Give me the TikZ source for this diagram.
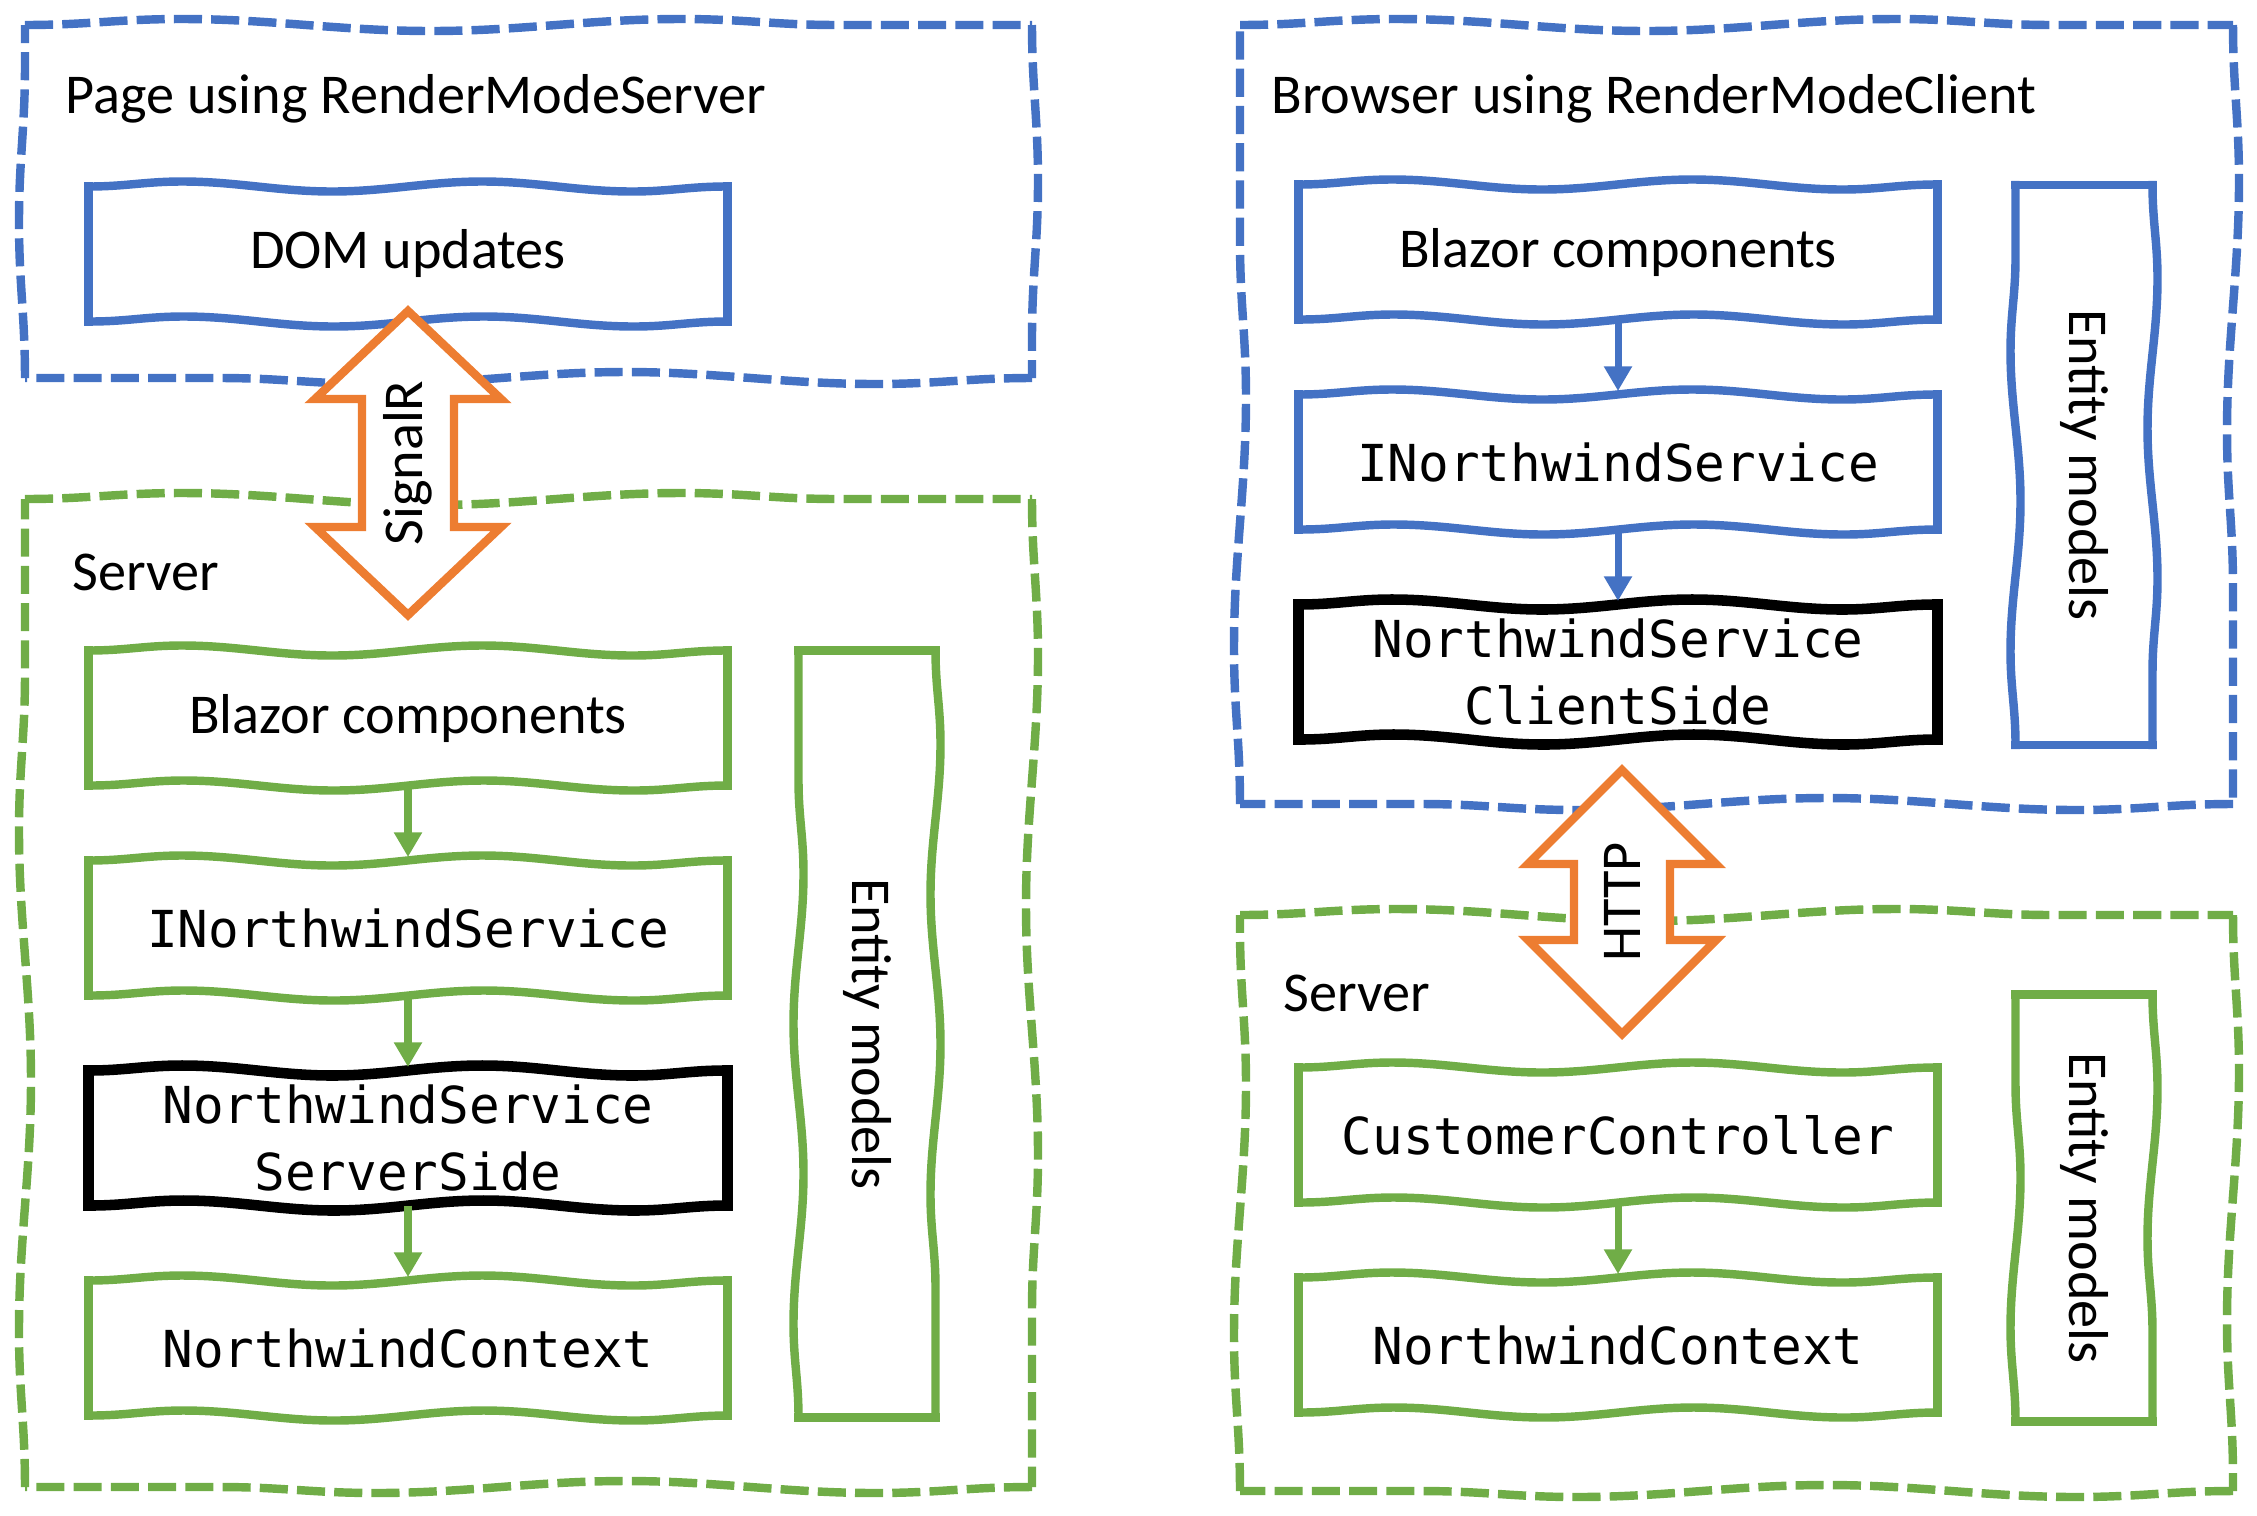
\documentclass[tikz,border=0pt]{standalone}
\usepackage{fontspec}
\setmainfont{Carlito}
\newfontfamily\codefont{DejaVu Sans Mono}
\usetikzlibrary{positioning,arrows.meta,decorations.pathmorphing}
\definecolor{boxblue}{HTML}{4472C4}
\definecolor{boxgreen}{HTML}{70AD47}
\definecolor{pipeorange}{HTML}{ED7D31}
\tikzset{
  wavy/.style={decorate, decoration={snake, segment length=3cm, amplitude=0.5mm}},
  layer/.style={draw=#1, line width=2.4pt, decorate, decoration={snake, segment length=5cm, amplitude=0.6mm},
    dash pattern=on 8pt off 2.6pt},
  comp/.style={minimum width=6.39cm, minimum height=1.35cm, align=center, outer sep=0pt},
  code/.style={font=\codefont\fontsize{14.5}{19}\selectfont},
  model/.style={minimum height=1.37cm, outer sep=0pt, rotate=-90},
  link/.style={draw=#1, line width=2pt, shorten >=1pt, -{Triangle[length=7pt,width=7.6pt]}},
  pipe/.style={draw=pipeorange, line width=2.4pt, fill=white, line join=miter}
}
% hand drawn outline round a named node
\newcommand{\sketch}[3][2.4pt]{%
  \foreach \a/\b in {north west/north east, north east/south east, south east/south west, south west/north west}
    \draw[wavy, draw=#3, line width=#1, line cap=rect] (#2.\a) -- (#2.\b);
}
% dashed container from corner to corner
\newcommand{\layerbox}[3]{%
  \coordinate (nw) at (#2); \coordinate (se) at (#3);
  \draw[layer=#1] (nw) -- (nw -| se);
  \draw[layer=#1] (nw -| se) -- (se);
  \draw[layer=#1] (se) -- (se -| nw);
  \draw[layer=#1] (se -| nw) -- (nw);
}

\begin{document}
\begin{tikzpicture}[font=\fontsize{16}{19}\selectfont]
  \useasboundingbox (0,0) rectangle (22.57,-15.15);

  % the four dashed containers
  \layerbox{boxblue}{0.25,-0.25}{10.32,-3.78}
  \layerbox{boxgreen}{0.25,-4.99}{10.32,-14.87}
  \layerbox{boxblue}{12.40,-0.25}{22.33,-8.04}
  \layerbox{boxgreen}{12.40,-9.15}{22.33,-14.91}

  \node[anchor=west] (ptitle) at (0.535,-0.99) {Page using RenderModeServer};
  \node[anchor=west] (btitle) at (12.59,-0.99) {Browser using RenderModeClient};
  \node[anchor=west] (lserver) at (0.605,-5.72) {Server};
  \node[anchor=west] (rserver) at (12.71,-9.93) {Server};

  % server rendering
  \node[comp] (dom) at (4.08,-2.54) {DOM updates};
  \node[comp] (lblazor) at (4.08,-7.18) {Blazor components};
  \node[comp, code, below=0.75cm of lblazor] (linorth) {INorthwindService};
  \node[comp, code, below=0.75cm of linorth] (serverside) {NorthwindService\\ServerSide};
  \node[comp, code, below=0.75cm of serverside] (lcontext) {NorthwindContext};
  \node[model, minimum width=7.67cm] (lmodels) at (8.67,-10.34) {Entity models};
  \sketch{dom}{boxblue}
  \sketch{lblazor}{boxgreen}
  \sketch{linorth}{boxgreen}
  \sketch[3pt]{serverside}{black}
  \sketch{lcontext}{boxgreen}
  \sketch{lmodels}{boxgreen}

  \draw[link=boxgreen] (lblazor) -- (linorth);
  \draw[link=boxgreen] (linorth) -- (serverside);
  \draw[link=boxgreen] (serverside) -- (lcontext);

  % client rendering
  \node[comp] (rblazor) at (16.18,-2.52) {Blazor components};
  \node[comp, code, below=0.75cm of rblazor] (rinorth) {INorthwindService};
  \node[comp, code, below=0.75cm of rinorth] (clientside) {NorthwindService\\ClientSide};
  \node[model, minimum width=5.6cm] (bmodels) at (20.84,-4.65) {Entity models};
  \node[comp, code] (customer) at (16.18,-11.35) {CustomerController};
  \node[comp, code, below=0.75cm of customer] (rcontext) {NorthwindContext};
  \node[model, minimum width=4.27cm] (smodels) at (20.84,-12.08) {Entity models};
  \sketch{rblazor}{boxblue}
  \sketch{rinorth}{boxblue}
  \sketch[3pt]{clientside}{black}
  \sketch{bmodels}{boxblue}
  \sketch{customer}{boxgreen}
  \sketch{rcontext}{boxgreen}
  \sketch{smodels}{boxgreen}

  \draw[link=boxblue] (rblazor) -- (rinorth);
  \draw[link=boxblue] (rinorth) -- (clientside);
  \draw[link=boxgreen] (customer) -- (rcontext);

  % double arrows
  \begin{scope}[shift={(4.08,-4.63)}]
    \draw[pipe] (0,1.52) -- (0.93,0.64) -- (0.46,0.64) -- (0.46,-0.64) -- (0.93,-0.64) -- (0,-1.52)
      -- (-0.93,-0.64) -- (-0.46,-0.64) -- (-0.46,0.64) -- (-0.93,0.64) -- cycle;
    \node[rotate=90] (signalr) at (0,0) {SignalR};
  \end{scope}
  \begin{scope}[shift={(16.22,-9.02)}]
    \draw[pipe] (0,1.32) -- (0.94,0.38) -- (0.48,0.38) -- (0.48,-0.38) -- (0.94,-0.38) -- (0,-1.32)
      -- (-0.94,-0.38) -- (-0.48,-0.38) -- (-0.48,0.38) -- (-0.94,0.38) -- cycle;
    \node[rotate=90] (http) at (0,0) {HTTP};
  \end{scope}
\end{tikzpicture}
\end{document}
